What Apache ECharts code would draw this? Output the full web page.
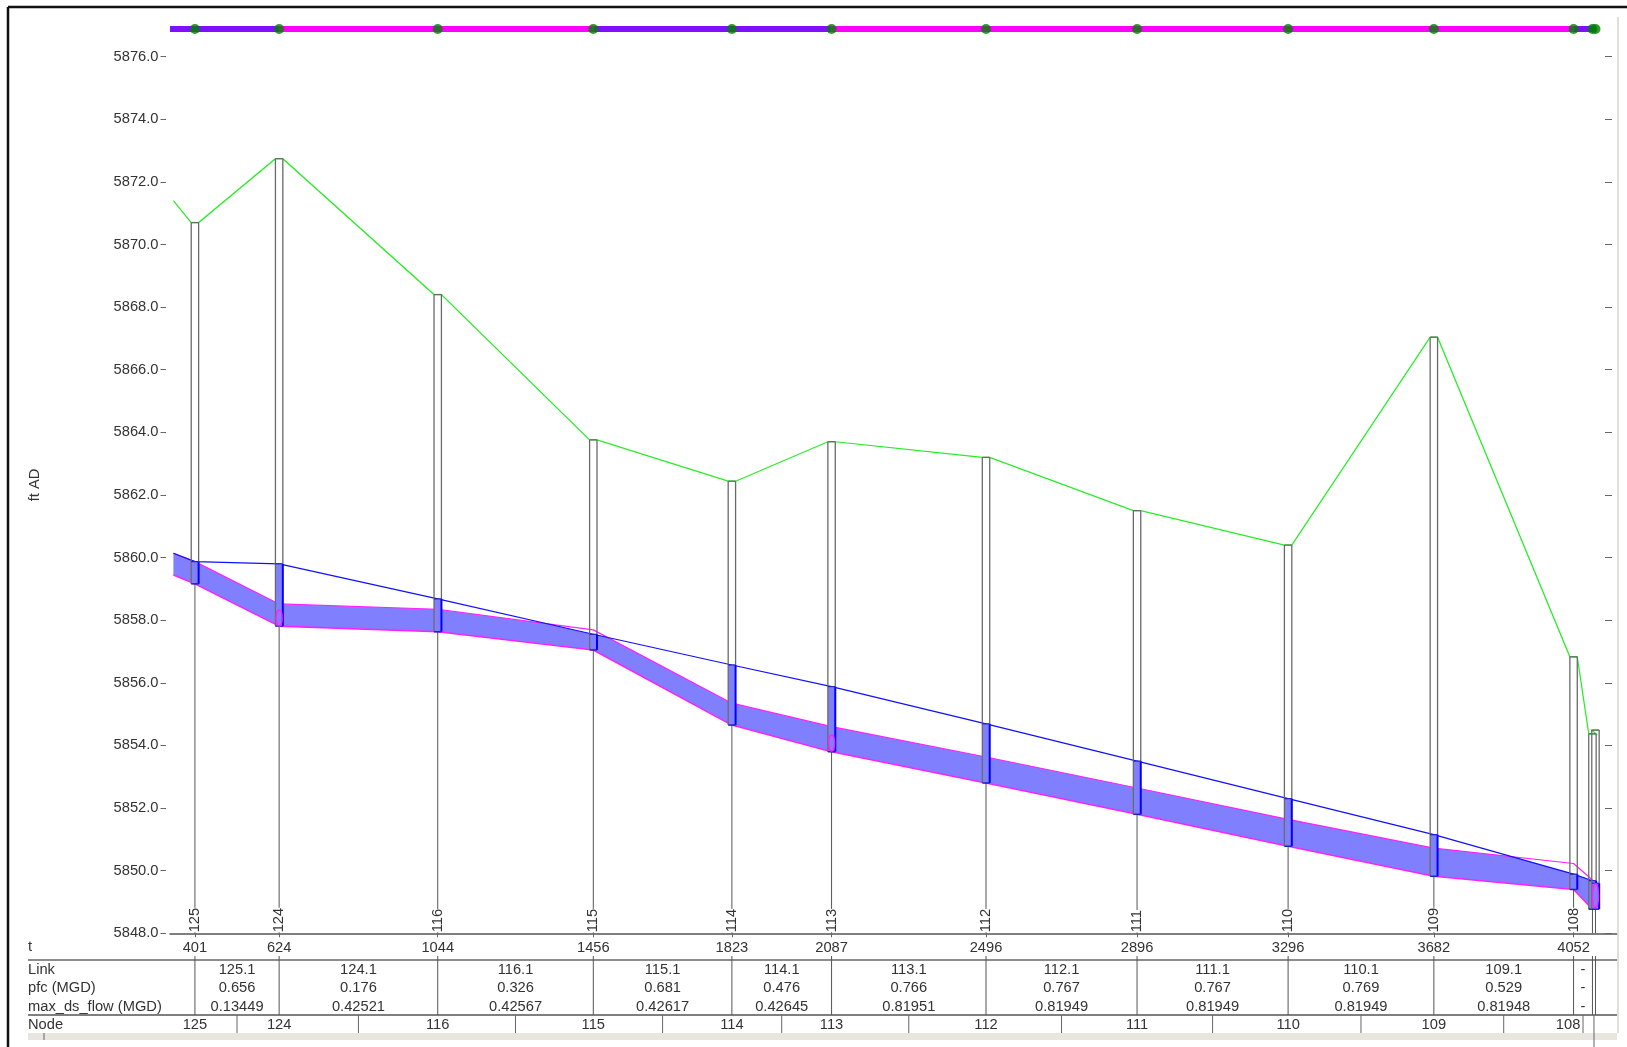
<!DOCTYPE html>
<html><head><meta charset="utf-8">
<style>html,body{margin:0;padding:0;background:#fff}#c{width:1627px;height:1047px}</style>
<script src="https://cdn.jsdelivr.net/npm/echarts@6/dist/echarts.min.js"></script>
</head><body><div id="c"></div>
<script>
const yTicks = [5848,5850,5852,5854,5856,5858,5860,5862,5864,5866,5868,5870,5872,5874,5876];
const nodeNames = ['125','124','116','115','114','113','112','111','110','109','108','',''];
const nodeDist  = [401,624,1044,1456,1823,2087,2496,2896,3296,3682,4052,4102,4110];
const distLabels = [401,624,1044,1456,1823,2087,2496,2896,3296,3682,4052];
const ground = [5870.7,5872.74,5868.4,5863.76,5862.44,5863.7,5863.2,5861.5,5860.4,5867.04,5856.83,5854.37,5854.49];
const hgl    = [5859.87,5859.8,5858.68,5857.55,5856.57,5855.88,5854.69,5853.5,5852.3,5851.15,5849.89,5849.68,5849.6];
const crown  = [5859.87,5858.52,5858.35,5857.69,5855.35,5854.6,5853.63,5852.64,5851.64,5850.72,5850.23,5849.7,5849.6];
const invert = [5859.16,5857.81,5857.63,5857.05,5854.65,5853.8,5852.8,5851.8,5850.78,5849.82,5849.4,5848.77,5848.77];
const startDist = 344, startGround = 5871.4, startCrown = 5860.14, startInvert = 5859.44;
const fillTopDist = [344,401,624,1044,1333,1456,1494,1823,2087,2496,2896,3296,3682,3888,4052,4102,4110];
const fillTop = [5860.14,5859.87,5858.52,5858.35,5857.89,5857.55,5857.45,5855.35,5854.6,5853.63,5852.64,5851.64,5850.72,5850.45,5849.89,5849.68,5849.6];
const barY = 5876.88;
const barSegments = [[335,624,'#7f10ff'],[624,1456,'#ff00ff'],[1456,2087,'#7f10ff'],[2087,4052,'#ff00ff'],[4052,4110,'#7f10ff']];
const ellipseDist = [624,2087,4110], ellipseVal = [5858.07,5854.08,5849.2], ellipseRy = [8,8,12];
const linkNames = ['125.1','124.1','116.1','115.1','114.1','113.1','112.1','111.1','110.1','109.1','-'];
const pfc = ['0.656','0.176','0.326','0.681','0.476','0.766','0.767','0.767','0.769','0.529','-'];
const maxFlow = ['0.13449','0.42521','0.42567','0.42617','0.42645','0.81951','0.81949','0.81949','0.81949','0.81948','-'];

const FAMILY = '"Liberation Sans", Arial, sans-serif';
const FSIZE = 14.7;
const FONT = FSIZE+'px '+FAMILY;
const TXT = '#333';
const HW = 3.7;
const ROW = {axis:933, dist:947, t1:960, link:970, pfc:988, flow:1006.5, t2:1015, node:1025, band:1033};
const zip = (a,b)=>a.map((v,i)=>[v,b[i]]);
const lineS = (data,color,width,z)=>({type:'line',data,symbol:'none',silent:true,z,lineStyle:{color,width},animation:false});
const tx = (text,x,y,align)=>({type:'text',x,y,silent:true,style:{text,font:FONT,fill:TXT,align:align||'center',verticalAlign:'middle'}});

const series = [];
// pipe fill
series.push({type:'custom',data:[0],z:2,silent:true,renderItem:(p,api)=>{
  const top = fillTopDist.map((d,i)=>api.coord([d,fillTop[i]]));
  const bot = [[startDist,startInvert]].concat(zip(nodeDist,invert)).map(c=>api.coord(c)).reverse();
  return {type:'polygon',shape:{points:top.concat(bot)},style:{fill:'#8080ff'}};
}});
// ground profile: runs from the right top corner of one shaft to the left top corner of the next
series.push({type:'custom',data:[0],z:3,silent:true,renderItem:(p,api)=>{
  const pts=[api.coord([startDist,startGround])];
  nodeDist.forEach((d,i)=>{const c=api.coord([d,ground[i]]);pts.push([c[0]-HW,c[1]],[c[0]+HW,c[1]]);});
  return {type:'polyline',shape:{points:pts},style:{fill:'none',stroke:'#22ee22',lineWidth:1.2}};
}});
series.push(lineS([[startDist,startCrown]].concat(zip(nodeDist,crown)),'#ff20ff',1.2,3));
series.push(lineS([[startDist,startInvert]].concat(zip(nodeDist,invert)),'#ff20ff',1.6,3));
series.push(lineS([[startDist,startCrown]].concat(zip(nodeDist,hgl)),'#1010ff',1.2,4));
// manholes and stems
series.push({type:'custom',z:5,silent:true,data:nodeDist.map((d,i)=>[d,invert[i],hgl[i],ground[i]]),
  renderItem:(p,api)=>{
    const d=api.value(0), x=api.coord([d,5848])[0], hw=HW;
    const yi=api.coord([d,api.value(1)])[1], yh=api.coord([d,api.value(2)])[1], yg=api.coord([d,api.value(3)])[1], ya=api.coord([d,5848])[1];
    const gs={stroke:'#6a6a6a',lineWidth:1.3}, bs={stroke:'#0000ff',lineWidth:2};
    const L=(x1,y1,x2,y2,s)=>({type:'line',shape:{x1,y1,x2,y2},style:s});
    return {type:'group',children:[
      {type:'rect',shape:{x:x-hw,y:yh,width:2*hw,height:yi-yh},style:{fill:'#8080ff'}},
      L(x-hw,yg,x-hw,yi,gs),L(x+hw,yg,x+hw,yh,gs),L(x-hw,yg,x+hw,yg,gs),
      L(x,yi,x,ya,{stroke:'#555',lineWidth:1}),
      L(x+hw,yh,x+hw,yi,bs),L(x-hw,yi,x+hw,yi,{stroke:'#2020c0',lineWidth:1.5}),L(x-hw,yh,x+hw,yh,{stroke:'#2020c0',lineWidth:1.2}),
      L(x,ROW.t1-4,x,ROW.t2,{stroke:'#555',lineWidth:1})
    ]};
  }});
// magenta markers
series.push({type:'custom',z:6,silent:true,data:zip(ellipseDist,ellipseVal),renderItem:(p,api)=>{
  const c=api.coord([api.value(0),api.value(1)]);
  return {type:'ellipse',shape:{cx:c[0],cy:c[1],rx:3,ry:ellipseRy[p.dataIndex]},style:{fill:'none',stroke:'#ff20ff',lineWidth:1.4}};
}});
// top bar
barSegments.forEach(s=>series.push(lineS([[s[0],barY],[s[1],barY]],s[2],6,7)));
series.push({type:'scatter',z:8,silent:true,symbol:'circle',symbolSize:10,itemStyle:{color:'#008000'},data:nodeDist.map(d=>[d,barY])});
// rotated node labels
series.push({type:'custom',z:9,silent:true,data:nodeDist.filter((d,i)=>nodeNames[i]),renderItem:(p,api)=>{
  const c=api.coord([api.value(0),5848]);
  return {type:'text',x:c[0],y:c[1]-1,rotation:Math.PI/2,style:{text:nodeNames[p.dataIndex],font:FONT,fill:TXT,align:'left',verticalAlign:'middle',backgroundColor:'#fff'}};
}});
// link rows
series.push({type:'custom',z:9,silent:true,data:linkNames.map((n,i)=>[nodeDist[i],nodeDist[i+1]]),renderItem:(p,api)=>{
  const i=p.dataIndex, x=(api.coord([api.value(0),5848])[0]+api.coord([api.value(1),5848])[0])/2;
  return {type:'group',children:[tx(linkNames[i],x,ROW.link),tx(pfc[i],x,ROW.pfc),tx(maxFlow[i],x,ROW.flow)]};
}});
// node row
series.push({type:'custom',z:9,silent:true,data:nodeDist,renderItem:(p,api)=>{
  const i=p.dataIndex, x=api.coord([nodeDist[i],5848])[0], ch=[];
  if(nodeNames[i]) ch.push(tx(nodeNames[i],i===10?x-5.5:x,ROW.node));
  if(i<nodeDist.length-1){
    const m=(x+api.coord([nodeDist[i+1],5848])[0])/2;
    ch.push({type:'line',shape:{x1:m,y1:ROW.t2,x2:m,y2:ROW.band},style:{stroke:'#666',lineWidth:1}});
  }
  return {type:'group',children:ch};
}});

const graphic=[];
const gl=(x1,y1,x2,y2,stroke,lineWidth)=>graphic.push({type:'line',silent:true,z:1,shape:{x1,y1,x2,y2},style:{stroke,lineWidth}});
const gt=(text,y)=>graphic.push({type:'text',silent:true,x:28,y,style:{text,font:FONT,fill:TXT,align:'left',verticalAlign:'middle'}});
graphic.push({type:'rect',silent:true,z:1,shape:{x:28,y:ROW.band,width:1589,height:7},style:{fill:'#e8e6df'}});
gl(8,7,1627,7,'#111',2.5); gl(8,7,8,1047,'#111',2.5);
gl(1618,17,1618,1033,'#d6d4cd',1.5);
gl(28,ROW.t1,1617,ROW.t1,'#666',1.5); gl(28,ROW.t2,1617,ROW.t2,'#555',1.5);
gl(44,ROW.band,44,1040,'#666',1); gl(1594,ROW.band,1594,1047,'#666',1);
gt('t',ROW.dist); gt('Link',ROW.link); gt('pfc (MGD)',ROW.pfc); gt('max_ds_flow (MGD)',ROW.flow); gt('Node',ROW.node);
graphic.push({type:'text',silent:true,x:35,y:485,rotation:Math.PI/2,style:{text:'ft AD',font:FONT,fill:TXT,align:'center',verticalAlign:'middle'}});

const yCommon={type:'value',min:5848,max:5877,splitLine:{show:false},axisLine:{show:false}};
const chart=echarts.init(document.getElementById('c'),null,{renderer:'canvas'});
chart.setOption({
  animation:false,backgroundColor:'#fff',
  textStyle:{fontFamily:FAMILY},
  grid:{left:170,right:10,top:25.3,bottom:113.7,containLabel:false},
  xAxis:{type:'value',min:335,max:4167,splitLine:{show:false},
    axisLine:{lineStyle:{color:'#555',width:1.5}},
    axisTick:{length:4,customValues:distLabels,lineStyle:{color:'#666'}},
    axisLabel:{customValues:distLabels,margin:7,color:TXT,fontSize:FSIZE,fontFamily:FAMILY,formatter:v=>String(v)}},
  yAxis:[
    Object.assign({},yCommon,{position:'left',offset:4,
      axisTick:{length:5.5,customValues:yTicks,lineStyle:{color:'#666'}},
      axisLabel:{customValues:yTicks,margin:7.5,color:TXT,fontSize:FSIZE,fontFamily:FAMILY,formatter:v=>Number(v).toFixed(1)}}),
    Object.assign({},yCommon,{position:'right',offset:-5,
      axisTick:{inside:true,length:7,customValues:yTicks,lineStyle:{color:'#666'}},
      axisLabel:{show:false}})
  ],
  graphic,series
});
</script></body></html>
